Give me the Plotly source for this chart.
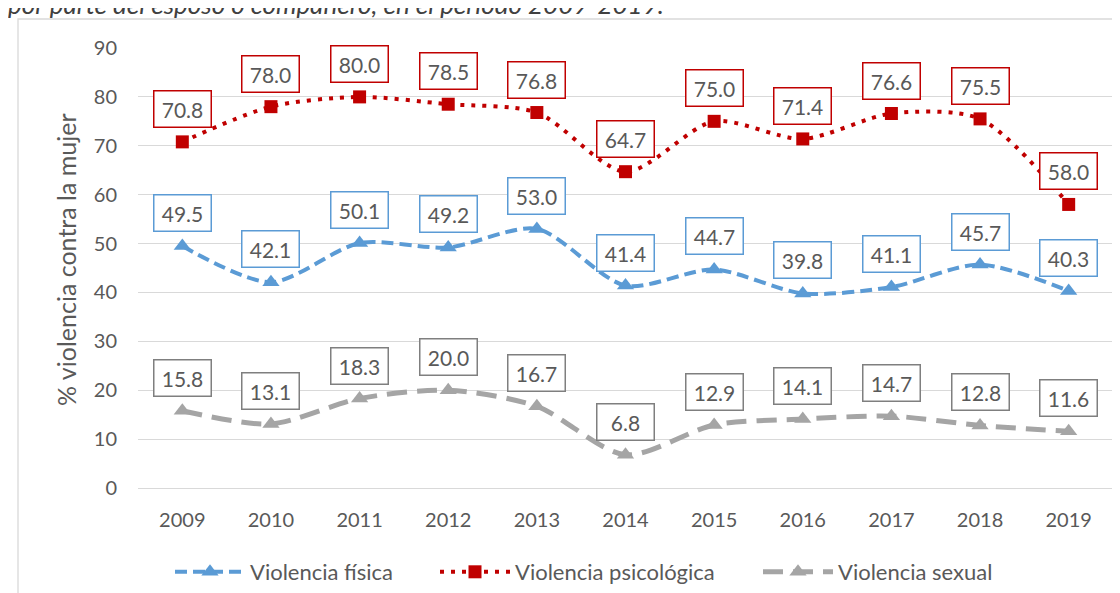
import plotly.graph_objects as go

years = ["2009", "2010", "2011", "2012", "2013", "2014", "2015", "2016", "2017", "2018", "2019"]
fisica = [49.5, 42.1, 50.1, 49.2, 53.0, 41.4, 44.7, 39.8, 41.1, 45.7, 40.3]
psicologica = [70.8, 78.0, 80.0, 78.5, 76.8, 64.7, 75.0, 71.4, 76.6, 75.5, 58.0]
sexual = [15.8, 13.1, 18.3, 20.0, 16.7, 6.8, 12.9, 14.1, 14.7, 12.8, 11.6]
y_ticks = [0, 10, 20, 30, 40, 50, 60, 70, 80, 90]

names = ["Violencia física", "Violencia psicológica", "Violencia sexual"]
title_text = "por parte del esposo o compañero, en el periodo 2009-2019."
ytitle = "% violencia contra la mujer"

FONT = "Lato, Carlito, Calibri, sans-serif"
TXT = "#595959"
BLUE = "#5B9BD5"
RED = "#C00000"
GRAY = "#A5A5A5"

W, H = 1120, 593
L, R, T, B = 130, 15, 40, 113
PW = W - L - R
PH = H - T - B

def px_x(p):
    return (p - L) / PW

def px_y(p):
    return (H - B - p) / PH

fig = go.Figure()

series = [
    (fisica, names[0], BLUE, dict(width=4, dash="12px,6px"), dict(symbol="triangle-up", size=15), BLUE, "legend", 162),
    (psicologica, names[1], RED, dict(width=4, dash="4px,7px"), dict(symbol="square", size=13), RED, "legend2", 427),
    (sexual, names[2], GRAY, dict(width=5, dash="20px,10px"), dict(symbol="triangle-up", size=15), "#7F7F7F", "legend3", 750),
]

annotations = []
legends = {}
for vals, name, col, line, marker, boxcol, lg, lgx in series:
    fig.add_trace(go.Scatter(
        x=years, y=vals, name=name, mode="lines+markers",
        line=dict(color=col, shape="spline", smoothing=0.8, **line),
        marker=dict(color=col, **marker),
        cliponaxis=False, legend=lg,
    ))
    legends[lg] = dict(
        orientation="h", x=px_x(lgx), xanchor="left", y=px_y(564), yanchor="middle",
        font=dict(family=FONT, size=22, color=TXT), itemwidth=70,
        bgcolor="rgba(0,0,0,0)",
    )
    for i, yv in enumerate(vals):
        annotations.append(dict(
            x=i, y=yv, xref="x", yref="y", text=f"{yv:.1f}", showarrow=False,
            yshift=33, font=dict(family=FONT, size=21, color=TXT),
            bgcolor="white", bordercolor=boxcol, borderwidth=1.5, borderpad=4,
            width=48, height=27, align="center", valign="middle",
        ))

annotations.append(dict(
    x=px_x(58), y=px_y(252), xref="paper", yref="paper", text=ytitle, textangle=-90,
    showarrow=False, font=dict(family=FONT, size=25, color=TXT),
    xanchor="center", yanchor="middle",
))
annotations.append(dict(
    x=px_x(-2), y=px_y(-4), xref="paper", yref="paper", text="<i>" + title_text + "</i>",
    showarrow=False, font=dict(family=FONT, size=26, color="#404040"),
    xanchor="left", yanchor="middle",
))

fig.update_layout(
    width=W, height=H,
    margin=dict(l=L, r=R, t=T, b=B, autoexpand=False),
    paper_bgcolor="white", plot_bgcolor="white",
    font=dict(family=FONT, size=20, color=TXT),
    showlegend=True,
    annotations=annotations,
    shapes=[dict(
        type="rect", xref="paper", yref="paper",
        x0=px_x(10), x1=1.3, y0=-0.6, y1=px_y(11),
        line=dict(color="#D9D9D9", width=1.3), fillcolor="rgba(0,0,0,0)", layer="below",
    )],
    xaxis=dict(
        type="category", range=[-0.5, 10.5], showgrid=False, zeroline=False,
        showline=True, linecolor="#D9D9D9", linewidth=1,
        ticks="", ticklabelstandoff=14,
        tickfont=dict(family=FONT, size=20, color=TXT),
    ),
    yaxis=dict(
        range=[0, 90], tickvals=y_ticks, showgrid=True, gridcolor="#D9D9D9", gridwidth=1,
        zeroline=False, showline=False, ticks="", ticklabelstandoff=20,
        tickfont=dict(family=FONT, size=20, color=TXT),
    ),
    **legends,
)

fig.write_html("out.html")
